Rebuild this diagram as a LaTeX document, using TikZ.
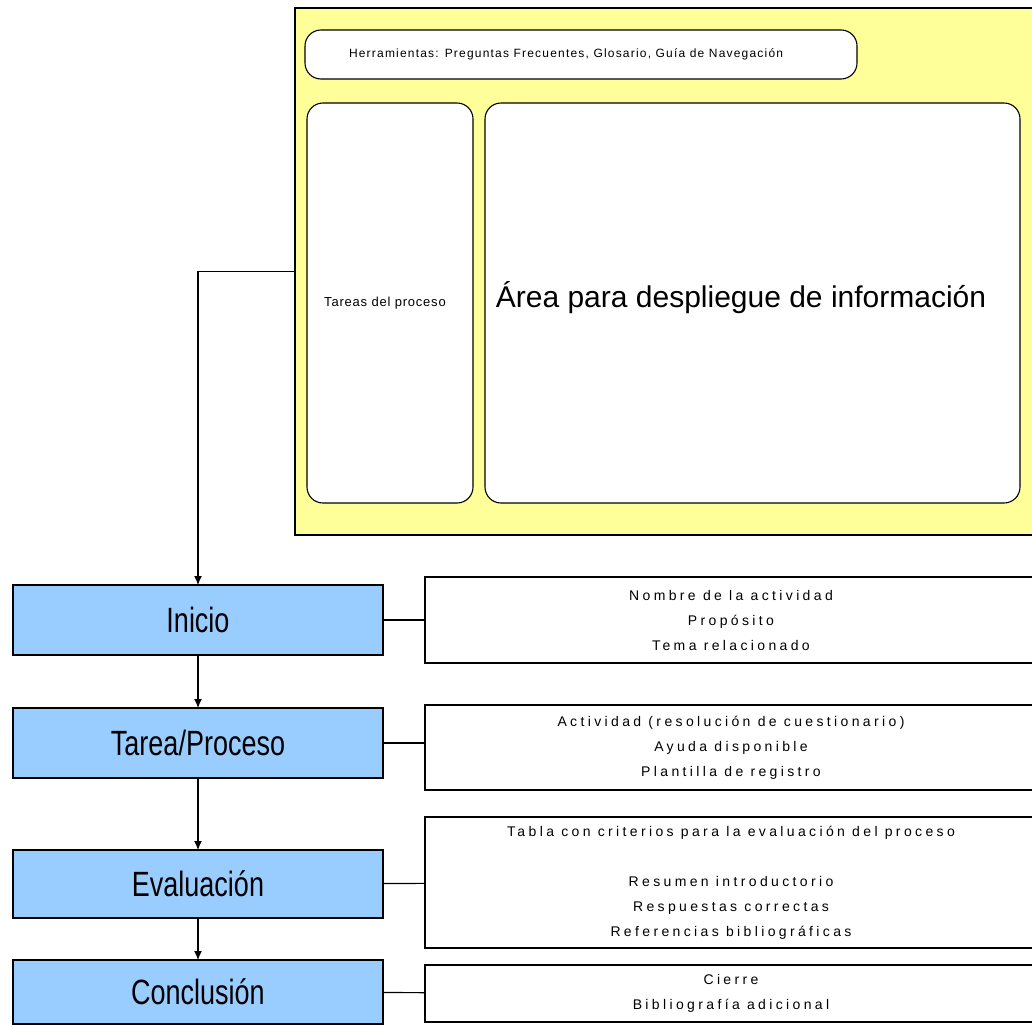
\documentclass[tikz,border=0pt]{standalone}
\usepackage{fontspec}
\setmainfont{Liberation Sans}
\newfontfamily\boxfont[LetterSpace=24]{Liberation Sans}
\newfontfamily\toolfont[LetterSpace=10]{Liberation Sans}
\newfontfamily\taskfont[LetterSpace=6]{Liberation Sans}
\usetikzlibrary{arrows.meta}
\definecolor{panel}{HTML}{FFFF99}
\definecolor{stage}{HTML}{99CCFF}
\newcommand{\tall}[1]{\scalebox{1}[1.3]{#1}}
\tikzset{
  every node/.style={inner sep=0pt, outer sep=0pt},
  frame/.style={draw, line width=1.3pt, fill=panel},
  roundbox/.style={draw, line width=1.1pt, fill=white, rounded corners=16pt},
  stagebox/.style={draw, line width=1.3pt, fill=stage, minimum width=370pt, font=\fontsize{27}{30}\selectfont},
  infobox/.style={draw, line width=1.1pt, fill=white, minimum width=612pt, align=center, font=\boxfont\fontsize{14}{25}\selectfont},
  link/.style={line width=1.2pt},
  flow/.style={line width=1.2pt, -{Latex[length=9pt,width=8pt]}}
}
\begin{document}
\begin{tikzpicture}[x=1pt,y=-1pt]
\useasboundingbox (0,0) rectangle (1032,1026);
\clip (0,0) rectangle (1032,1026);
\node[frame, minimum width=745pt, minimum height=527pt] (panel) at (667.5,271.5) {};
\node[roundbox, minimum width=552pt, minimum height=49pt] (tools) at (581,54.5) {};
\node[font=\toolfont\fontsize{12}{14}\selectfont, anchor=west] (toolstxt) at (349,54) {Herramientas: Preguntas Frecuentes, Glosario, Guía de Navegación};
\node[roundbox, minimum width=166pt, minimum height=400pt] (tasks) at (390,303) {};
\node[font=\taskfont\fontsize{13}{15}\selectfont] (taskstxt) at (385,303) {Tareas del proceso};
\node[roundbox, minimum width=535pt, minimum height=400pt] (area) at (752.5,303) {};
\node[font=\fontsize{30}{34}\selectfont] (areatxt) at (741,298) {Área para despliegue de información};

\node[stagebox, minimum height=70pt] (inicio) at (198,620) {\tall{Inicio}};
\node[stagebox, minimum height=70pt] (tarea) at (198,743) {\tall{Tarea/Proceso}};
\node[stagebox, minimum height=68pt] (eval) at (198,884) {\tall{Evaluación}};
\node[stagebox, minimum height=64pt] (concl) at (198,992) {\tall{Conclusión}};

\node[infobox, minimum height=86pt] (i1) at (731,620) {Nombre de la actividad\\Propósito\\Tema relacionado};
\node[infobox, minimum height=85pt] (i2) at (731,747.5) {Actividad (resolución de cuestionario)\\Ayuda disponible\\Plantilla de registro};
\node[infobox, minimum height=131pt] (i3) at (731,882.5) {Tabla con criterios para la evaluación del proceso\\[25pt]Resumen introductorio\\Respuestas correctas\\Referencias bibliográficas};
\node[infobox, minimum height=57pt] (i4) at (731,993.5) {Cierre\\Bibliografía adicional};

\draw[flow] (panel.west) -| (inicio.north);
\draw[flow] (inicio) -- (tarea);
\draw[flow] (tarea) -- (eval);
\draw[flow] (eval) -- (concl);
\draw[link] (inicio) -- (i1);
\draw[link] (tarea.east) -- (tarea.east -| i2.west);
\draw[link] (eval) -- (i3);
\draw[link] (concl) -- (i4);
\end{tikzpicture}
\end{document}
